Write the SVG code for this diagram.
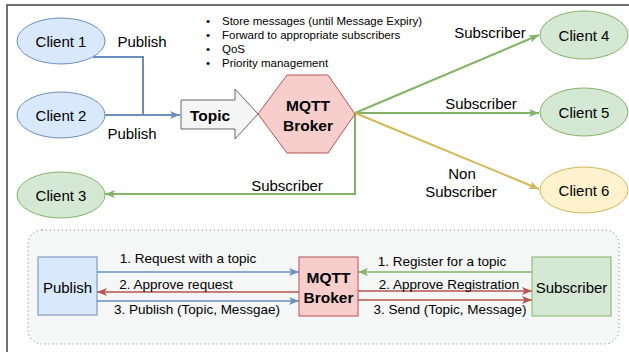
<svg xmlns="http://www.w3.org/2000/svg" width="629" height="352" viewBox="0 0 629 352">
<style>
text{font-family:"Liberation Sans",Arial,sans-serif;fill:#000;dominant-baseline:central}
.lbl{font-size:15px;text-anchor:middle}
.sm{font-size:13.5px;text-anchor:middle}
.bul{font-size:11.5px}
.bold{font-weight:bold;text-anchor:middle;font-size:15.5px}
.blue{fill:#dae8fc;stroke:#6c8ebf;stroke-width:1}
.green{fill:#d5e8d4;stroke:#82b366;stroke-width:1}
.yellow{fill:#fff2cc;stroke:#d6b656;stroke-width:1}
.red{fill:#f8cecc;stroke:#b85450;stroke-width:1}
.ln{fill:none;stroke-width:2}
.lb{stroke:#6c8ebf}.lg{stroke:#82b366}.ly{stroke:#d6b656}.lr{stroke:#b85450}
.thin{stroke-width:1.5}
</style>
<defs>
<marker id="ab" viewBox="0 0 10 8" refX="10" refY="4" markerWidth="10" markerHeight="8" markerUnits="userSpaceOnUse" orient="auto"><path d="M0,0 L10,4 L0,8 L2.5,4 z" fill="#6c8ebf"/></marker>
<marker id="ag" viewBox="0 0 10 8" refX="10" refY="4" markerWidth="10" markerHeight="8" markerUnits="userSpaceOnUse" orient="auto"><path d="M0,0 L10,4 L0,8 L2.5,4 z" fill="#82b366"/></marker>
<marker id="ay" viewBox="0 0 10 8" refX="10" refY="4" markerWidth="10" markerHeight="8" markerUnits="userSpaceOnUse" orient="auto"><path d="M0,0 L10,4 L0,8 L2.5,4 z" fill="#d6b656"/></marker>
<marker id="ar" viewBox="0 0 10 8" refX="10" refY="4" markerWidth="10" markerHeight="8" markerUnits="userSpaceOnUse" orient="auto"><path d="M0,0 L10,4 L0,8 L2.5,4 z" fill="#b85450"/></marker>
</defs>
<rect x="0" y="0" width="629" height="352" fill="#ffffff"/>
<rect x="7" y="5" width="640" height="360" fill="none" stroke="#444" stroke-width="1.5"/>
<rect id="container" x="28" y="230" width="591" height="114" rx="14" fill="#f5f6f6" stroke="#777" stroke-width="1" stroke-dasharray="1,3"/>

<g id="connectors">
<path class="ln lb" d="M93,57 H143 V115" />
<path class="ln lb" d="M105,115 H180" marker-end="url(#ab)"/>
<path class="ln lg" d="M355,113 L539,35" marker-end="url(#ag)"/>
<path class="ln lg" d="M355,113 H539" marker-end="url(#ag)"/>
<path class="ln ly" d="M355,113 L539,189" marker-end="url(#ay)"/>
<path class="ln lg" d="M355,113 V194 H105" marker-end="url(#ag)"/>
<path class="ln thin lb" d="M97,272 H299" marker-end="url(#ab)"/>
<path class="ln thin lr" d="M299,292 H97" marker-end="url(#ar)"/>
<path class="ln thin lb" d="M97,301 H299" marker-end="url(#ab)"/>
<path class="ln thin lg" d="M532,272 H358" marker-end="url(#ag)"/>
<path class="ln thin lr" d="M358,291 H532" marker-end="url(#ar)"/>
<path class="ln thin lr" d="M358,300 H532" marker-end="url(#ar)"/>
<text class="lbl" x="142" y="41">Publish</text>
<text class="lbl" x="132" y="133">Publish</text>
<text class="lbl" x="490" y="32">Subscriber</text>
<text class="lbl" x="481" y="103">Subscriber</text>
<text class="lbl" x="462" y="173">Non</text>
<text class="lbl" x="461" y="191">Subscriber</text>
<text class="lbl" x="287" y="185">Subscriber</text>
<text class="sm" x="188" y="258">1. Request with a topic</text>
<text class="sm" x="176" y="284">2. Approve request</text>
<text class="sm" x="197" y="309">3. Publish (Topic, Messgae)</text>
<text class="sm" x="442" y="261">1. Register for a topic</text>
<text class="sm" x="449" y="284">2. Approve Registration</text>
<text class="sm" x="450" y="309">3. Send (Topic, Message)</text>
</g>

<g id="client1"><ellipse class="blue" cx="61" cy="41" rx="44" ry="23"/><text class="lbl" x="61" y="41">Client 1</text></g>
<g id="client2"><ellipse class="blue" cx="61" cy="115" rx="44" ry="23"/><text class="lbl" x="61" y="115">Client 2</text></g>
<g id="client3"><ellipse class="green" cx="61" cy="195" rx="44" ry="23"/><text class="lbl" x="61" y="195">Client 3</text></g>
<g id="client4"><ellipse class="green" cx="584" cy="35" rx="44" ry="24"/><text class="lbl" x="584" y="35">Client 4</text></g>
<g id="client5"><ellipse class="green" cx="584" cy="112" rx="44" ry="24"/><text class="lbl" x="584" y="112">Client 5</text></g>
<g id="client6"><ellipse class="yellow" cx="584" cy="190" rx="44" ry="23"/><text class="lbl" x="584" y="190">Client 6</text></g>

<g id="topic">
<path d="M181,100 H235 V89 L258,114 L235,139 V129 H181 Z" fill="#f5f5f5" stroke="#666666" stroke-width="1"/>
<text class="bold" x="210" y="115">Topic</text>
</g>

<g id="broker">
<path class="red" d="M258,114 L287,75 L328,75 L355,114 L328,153 L287,153 Z"/>
<text class="bold" x="308" y="105">MQTT</text>
<text class="bold" x="308" y="125">Broker</text>
</g>

<g id="notes">
<text class="bul" x="206" y="20.5">•</text><text class="bul" x="222" y="20.5">Store messages (until Message Expiry)</text>
<text class="bul" x="206" y="34.5">•</text><text class="bul" x="222" y="34.5">Forward to appropriate subscribers</text>
<text class="bul" x="206" y="48.5">•</text><text class="bul" x="222" y="48.5">QoS</text>
<text class="bul" x="206" y="62.5">•</text><text class="bul" x="222" y="62.5">Priority management</text>
</g>

<g id="publish"><rect class="blue" x="38" y="257" width="59" height="58"/><text class="lbl" x="67.5" y="287">Publish</text></g>
<g id="broker2"><rect class="red" x="299" y="257" width="59" height="59"/><text class="bold" x="328.5" y="277">MQTT</text><text class="bold" x="328.5" y="297">Broker</text></g>
<g id="subscriber"><rect class="green" x="532" y="257" width="79" height="59"/><text class="lbl" x="571.5" y="287">Subscriber</text></g>
</svg>
